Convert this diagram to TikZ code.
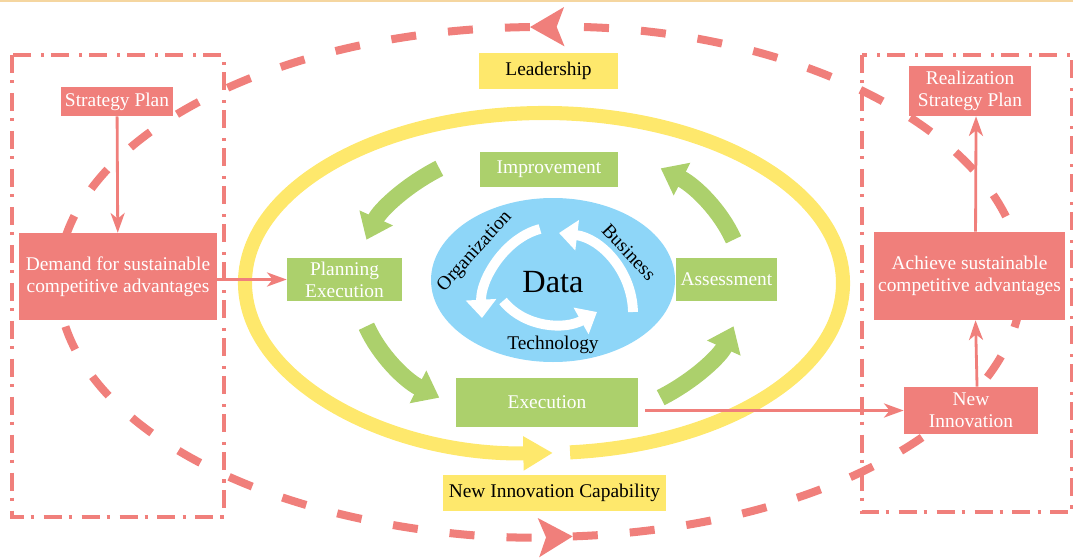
\documentclass[tikz,border=0pt]{standalone}
\usepackage{fontspec}
\setmainfont{Liberation Serif}
\usetikzlibrary{arrows.meta,calc}
\definecolor{salmon}{RGB}{240,127,123}
\definecolor{leaf}{RGB}{172,208,108}
\definecolor{sun}{RGB}{254,232,108}
\definecolor{sky}{RGB}{142,214,248}
\definecolor{tanline}{RGB}{245,214,160}
\newcommand{\pix}{0.7113pt}

\begin{document}
\begin{tikzpicture}[x=0.025cm, y=-0.025cm,
  every node/.style={font=\fontsize{13.8}{15.8}\selectfont, align=center, inner sep=0pt},
  redbox/.style={fill=salmon, text=white},
  greenbox/.style={fill=leaf, text=white},
  yellowbox/.style={fill=sun, text=black},
  redarrow/.style={draw=salmon, line width=2pt, -{Stealth[length=14pt,width=10pt,inset=4pt]}},
  greenarrow/.style={draw=leaf, line width=12pt, -{Triangle[length=17pt,width=25pt]}},
  whitearrow/.style={draw=white, line width=7pt, -{Triangle[length=13pt,width=21pt]}},
  yellowring/.style={draw=sun, line width=10pt, -{Triangle[length=21pt,width=23pt]}},
  dashring/.style={draw=salmon, line width=5.7pt, dash pattern=on 17.8pt off 22.8pt,
    -{Stealth[length=24pt,width=27pt,inset=5pt]}},
  frame/.style={draw=salmon, line width=2.4pt, dash pattern=on 12.8pt off 5pt on 2.2pt off 7pt}]

  \useasboundingbox (0,0) rectangle (1073,559);
  \draw[tanline, line width=1.2pt] (0,0.8) -- (1073,0.8);

  % dash-dot frames
  \draw[frame] (12,55) rectangle (224,517);
  \draw[frame] (862,55) rectangle (1072,512);

  % outer dashed cycle
  \draw[dashring] (540,282) ++(86.1:482 and 255) arc[start angle=86.1, end angle=-91.2, x radius=482, y radius=255];
  \draw[dashring] (540,282) ++(-91.2:482 and 255) arc[start angle=-91.2, end angle=-273.9, x radius=482, y radius=255];

  % yellow ring
  \draw[yellowring] (544,283) ++(85:299 and 170) arc[start angle=85, end angle=-271.7, x radius=299, y radius=170];

  % data core
  \fill[sky] (553,280) ellipse [x radius=122, y radius=82];
  \draw[whitearrow] (540,229) .. controls (505,238) and (480,280) .. (482,318);
  \draw[whitearrow] (503,301) .. controls (525,328) and (565,330) .. (597,312);
  \draw[whitearrow] (633,312) .. controls (632,270) and (600,238) .. (559,233);

  % green cycle
  \foreach \a/\b in {-125/-162, 162/125, 55/18, -18/-55}
    \draw[greenarrow] (550,283) ++(\a:193 and 140) arc[start angle=\a, end angle=\b, x radius=193, y radius=140];

  % boxes
  \node[redbox, minimum width=112*\pix, minimum height=29*\pix] (strat) at (117,101.5) {Strategy Plan};
  \node[redbox, minimum width=198*\pix, minimum height=87*\pix] (demand) at (118,276.5) {Demand for sustainable\\competitive advantages};
  \node[greenbox, minimum width=115*\pix, minimum height=43*\pix] (plan) at (344.5,279.5) {Planning\\Execution};
  \node[yellowbox, minimum width=139*\pix, minimum height=36*\pix] (lead) at (548.5,71) {Leadership};
  \node[greenbox, minimum width=138*\pix, minimum height=35*\pix] (improv) at (549,169.5) {Improvement};
  \node[greenbox, minimum width=101*\pix, minimum height=43*\pix] (assess) at (726.5,279.5) {Assessment};
  \node[greenbox, minimum width=182*\pix, minimum height=49*\pix] (exec) at (547,402.5) {Execution};
  \node[yellowbox, minimum width=223*\pix, minimum height=36*\pix] (nic) at (554.5,493) {New Innovation Capability};
  \node[redbox, minimum width=122*\pix, minimum height=50*\pix] (real) at (970,91) {Realization\\Strategy Plan};
  \node[redbox, minimum width=191*\pix, minimum height=88*\pix] (achieve) at (969.5,276) {Achieve sustainable\\competitive advantages};
  \node[redbox, minimum width=134*\pix, minimum height=47*\pix] (newinn) at (971,410.5) {New\\Innovation};

  % core labels
  \node[font=\fontsize{23}{25}\selectfont] (data) at (553,282) {Data};
  \node[rotate=48] (org) at (475,252) {Organization};
  \node[rotate=-47] (bus) at (629,252) {Business};
  \node (tech) at (553,345) {Technology};

  % connectors
  \draw[redarrow] (strat) -- (demand);
  \draw[redarrow] (demand.east |- plan.west) -- (plan.west);
  \draw[redarrow] ($(exec.east |- newinn.west)+(7,0)$) -- (newinn.west);
  \draw[redarrow] ([xshift=4.3pt]newinn.north) -- ([xshift=4.3pt]achieve.south);
  \draw[redarrow] ([xshift=4.3pt]achieve.north) -- ([xshift=4.3pt]real.south);
\end{tikzpicture}
\end{document}
